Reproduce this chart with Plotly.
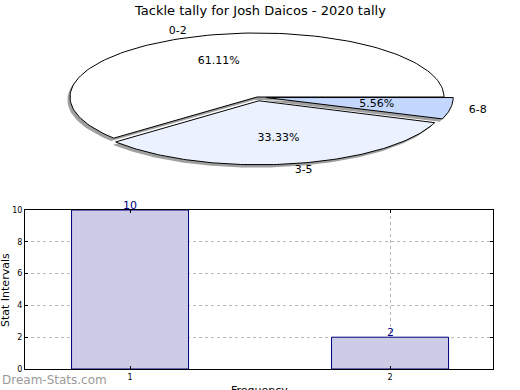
import numpy as np
import plotly.graph_objects as go

# ---------------- data ----------------
title_text = "Tackle tally for Josh Daicos - 2020 tally"
pie_labels = ["0-2", "3-5", "6-8"]
pie_values = [11, 6, 1]
pie_colors = ["#FFFFFF", "#EBF1FE", "#C4D8FE"]
pie_explode = [0.0, 0.06, 0.05]

bar_x = [1, 2]
bar_values = [10, 2]
bar_tick_labels = ["1", "2"]
y_ticks = [0, 2, 4, 6, 8, 10]

FONT = "DejaVu Sans"
W, H = 520, 390

fig = go.Figure()

# ---------------- squashed, exploded pie (drawn as wedges) ----------------
total = float(sum(pie_values))
start = 0.0
wedges = []
for lab, val, col, ex in zip(pie_labels, pie_values, pie_colors, pie_explode):
    t1 = start
    t2 = start + 360.0 * val / total
    mid = np.deg2rad((t1 + t2) / 2)
    ox, oy = ex * np.cos(mid), ex * np.sin(mid)
    th = np.deg2rad(np.linspace(t1, t2, 120))
    xs = np.concatenate([[ox], ox + np.cos(th), [ox]])
    ys = np.concatenate([[oy], oy + np.sin(th), [oy]])
    wedges.append((lab, val, col, ex, mid, ox, oy, xs, ys))
    start = t2

# shadows first
for lab, val, col, ex, mid, ox, oy, xs, ys in wedges:
    fig.add_trace(go.Scatter(x=xs - 0.014, y=ys - 0.045, mode="lines", fill="toself",
                             fillcolor="#a0a0a0", line=dict(width=0),
                             hoverinfo="skip", showlegend=False, xaxis="x", yaxis="y"))
for lab, val, col, ex, mid, ox, oy, xs, ys in wedges:
    fig.add_trace(go.Scatter(x=xs, y=ys, mode="lines", fill="toself",
                             fillcolor=col, line=dict(color="black", width=1),
                             hoverinfo="skip", showlegend=False, xaxis="x", yaxis="y"))
    # outer label
    lx = ox + 1.1 * np.cos(mid)
    ly = oy + 1.1 * np.sin(mid)
    fig.add_trace(go.Scatter(x=[lx], y=[ly], mode="text", text=[lab],
                             textposition="middle right" if lx > 0 else "middle left",
                             textfont=dict(family=FONT, size=11, color="black"),
                             hoverinfo="skip", showlegend=False, xaxis="x", yaxis="y"))
    # percentage
    px = ox + 0.6 * np.cos(mid)
    py = oy + 0.6 * np.sin(mid)
    fig.add_trace(go.Scatter(x=[px], y=[py], mode="text",
                             text=["%.2f%%" % (100.0 * val / total)],
                             textposition="middle center",
                             textfont=dict(family=FONT, size=11, color="black"),
                             hoverinfo="skip", showlegend=False, xaxis="x", yaxis="y"))

# ---------------- bar chart ----------------
fig.add_trace(go.Bar(x=bar_x, y=bar_values, width=0.45,
                     marker=dict(color="#CCCCE6", line=dict(color="#000080", width=1)),
                     hoverinfo="skip", showlegend=False, xaxis="x2", yaxis="y2"))

bar_annotations = [
    dict(text=str(v), x=xv, y=v, xref="x2", yref="y2", xanchor="center", yanchor="middle",
         yshift=5, showarrow=False, font=dict(family=FONT, size=11, color="#000080"))
    for xv, v in zip(bar_x, bar_values)
]

# pie axes: center at (257, 97) px, rx = 187 px, ry = 64 px
cx, cy, rx, ry = 257.0, 97.0, 187.0, 64.0
fig.update_layout(
    width=W, height=H, autosize=False,
    margin=dict(l=0, r=0, t=0, b=0, pad=0, autoexpand=False),
    paper_bgcolor="white", plot_bgcolor="white",
    font=dict(family=FONT, color="black"),
    xaxis=dict(domain=[0, 1], range=[-cx / rx, (W - cx) / rx], visible=False,
               fixedrange=True, automargin=False),
    yaxis=dict(domain=[0.5, 1], range=[-(195 - cy) / ry, cy / ry], visible=False,
               fixedrange=True, automargin=False),
    xaxis2=dict(domain=[25 / W, 493 / W], range=[0.596, 2.396], anchor="y2",
                tickvals=bar_x, ticktext=bar_tick_labels, automargin=False,
                showline=True, linecolor="black", linewidth=1, mirror="ticks",
                ticks="inside", ticklen=3, tickcolor="black",
                showgrid=True, gridcolor="#b8b8b8", griddash="dot", gridwidth=1,
                zeroline=False, tickfont=dict(family=FONT, size=8, color="black")),
    yaxis2=dict(domain=[1 - 369 / H, 1 - 210 / H], range=[0, 10], anchor="x2",
                tickvals=y_ticks, automargin=False,
                showline=True, linecolor="black", linewidth=1, mirror="ticks",
                ticks="inside", ticklen=3, tickcolor="black",
                showgrid=True, gridcolor="#b8b8b8", griddash="dot", gridwidth=1,
                zeroline=False, tickfont=dict(family=FONT, size=8, color="black")),
    annotations=[
        dict(text=title_text, x=0.5, y=1 - 10 / H, xref="paper", yref="paper",
             xanchor="center", yanchor="middle", showarrow=False,
             font=dict(family=FONT, size=13, color="black")),
        dict(text="Stat Intervals", x=5 / W, y=1 - 290 / H, xref="paper", yref="paper",
             xanchor="center", yanchor="middle", textangle=-90, showarrow=False,
             font=dict(family=FONT, size=11, color="black")),
        dict(text="Frequency", x=259 / W, y=1 - 390 / H, xref="paper", yref="paper",
             xanchor="center", yanchor="middle", showarrow=False,
             font=dict(family=FONT, size=11, color="black")),
        dict(text="Dream-Stats.com", x=0, y=1 - 380 / H, xref="paper", yref="paper",
             xanchor="left", yanchor="middle", showarrow=False,
             font=dict(family=FONT, size=12, color="#9a9a9a")),
    ] + bar_annotations,
)

fig.write_html("out.html", config={"displayModeBar": False},
               post_script="document.body.style.margin='0px';document.body.style.overflow='hidden';")
